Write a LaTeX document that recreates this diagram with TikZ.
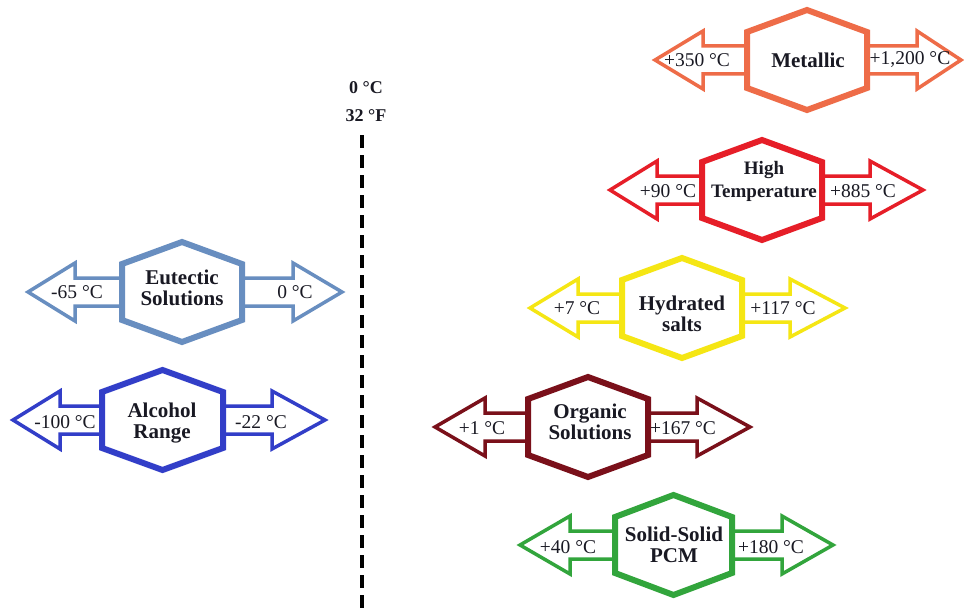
\documentclass[tikz,border=0pt]{standalone}
\usepackage{fontspec}
\setmainfont{Liberation Serif}
\definecolor{cMet}{RGB}{238,108,72}
\definecolor{cHigh}{RGB}{230,30,40}
\definecolor{cHyd}{RGB}{245,230,20}
\definecolor{cOrg}{RGB}{122,16,26}
\definecolor{cSol}{RGB}{50,165,60}
\definecolor{cEut}{RGB}{104,142,192}
\definecolor{cAlc}{RGB}{50,62,200}
\definecolor{txt}{RGB}{25,25,35}
\tikzset{
  arrowline/.style={line width=3.5pt,line join=miter,fill=white},
  hexline/.style={line width=6pt,line join=miter,fill=white},
  hexlabel/.style={font=\fontsize{21}{21}\selectfont\bfseries,text=txt,align=center,inner sep=0pt},
  templabel/.style={font=\fontsize{19.5}{20}\selectfont,text=txt,inner sep=0pt},
  zerolabel/.style={font=\fontsize{18}{20}\selectfont\bfseries,text=txt,inner sep=0pt},
  zeroline/.style={line width=4pt,dash pattern=on 13pt off 7pt}
}
\newcommand\pcmunit[8]{%
  \draw[arrowline,draw=#1] ({#3},{#2}) -- ({#4},{#2-29}) -- ({#4},{#2-14}) -- ({#7},{#2-14}) -- ({#7},{#2-29}) -- ({#8},{#2}) -- ({#7},{#2+29}) -- ({#7},{#2+14}) -- ({#4},{#2+14}) -- ({#4},{#2+29}) -- cycle;
  \draw[hexline,draw=#1] ({#5},{#2-28}) -- ({(#5+#6)/2},{#2-50}) -- ({#6},{#2-28}) -- ({#6},{#2+28}) -- ({(#5+#6)/2},{#2+50}) -- ({#5},{#2+28}) -- cycle;
}
\begin{document}
\begin{tikzpicture}[x=1pt,y=-1pt]
\useasboundingbox[fill=white] (0,0) rectangle (964,610);
% zero line
\node[zerolabel] (zc) at (366,88) {0 °C};
\node[zerolabel] (zf) at (366,116) {32 °F};
\coordinate (dtop) at (362,135);
\coordinate (dbot) at (362,610);
\draw[zeroline] (dtop) -- (dbot);
% units
\pcmunit{cMet}{60}{655}{703}{747}{867}{917}{961}
\pcmunit{cHigh}{190}{610}{657}{702}{822}{870}{923}
\pcmunit{cHyd}{308}{530}{578}{622}{742}{790}{845}
\pcmunit{cOrg}{427}{435}{485}{528}{648}{697}{750}
\pcmunit{cSol}{545}{520}{570}{615}{732}{782}{833}
\pcmunit{cEut}{292}{28}{75}{122}{242}{293}{342}
\pcmunit{cAlc}{420}{13}{60}{102}{223}{272}{325}
% hex labels
\node[hexlabel] (met) at (808,60) {Metallic};
\node[hexlabel,font=\fontsize{19}{23}\selectfont\bfseries] (high) at (764,181) {High\\Temperature};
\node[hexlabel] (hyd) at (682,314) {Hydrated\\salts};
\node[hexlabel] (org) at (590,422) {Organic\\Solutions};
\node[hexlabel] (sol) at (674,545) {Solid-Solid\\PCM};
\node[hexlabel] (eut) at (182,288) {Eutectic\\Solutions};
\node[hexlabel] (alc) at (162,423) {Alcohol\\Range};
% temperatures
\node[templabel] (metL) at (697,60) {+350 °C};
\node[templabel] (metR) at (910,60) {+1,200 °C};
\node[templabel] (highL) at (668,191) {+90 °C};
\node[templabel] (highR) at (863,191) {+885 °C};
\node[templabel] (hydL) at (577,308) {+7 °C};
\node[templabel] (hydR) at (783,308) {+117 °C};
\node[templabel] (orgL) at (482,428) {+1 °C};
\node[templabel] (orgR) at (683,428) {+167 °C};
\node[templabel] (solL) at (568,547) {+40 °C};
\node[templabel] (solR) at (771,547) {+180 °C};
\node[templabel] (eutL) at (77,292) {-65 °C};
\node[templabel] (eutR) at (295,292) {0 °C};
\node[templabel] (alcL) at (65,422) {-100 °C};
\node[templabel] (alcR) at (261,422) {-22 °C};
\end{tikzpicture}
\end{document}
